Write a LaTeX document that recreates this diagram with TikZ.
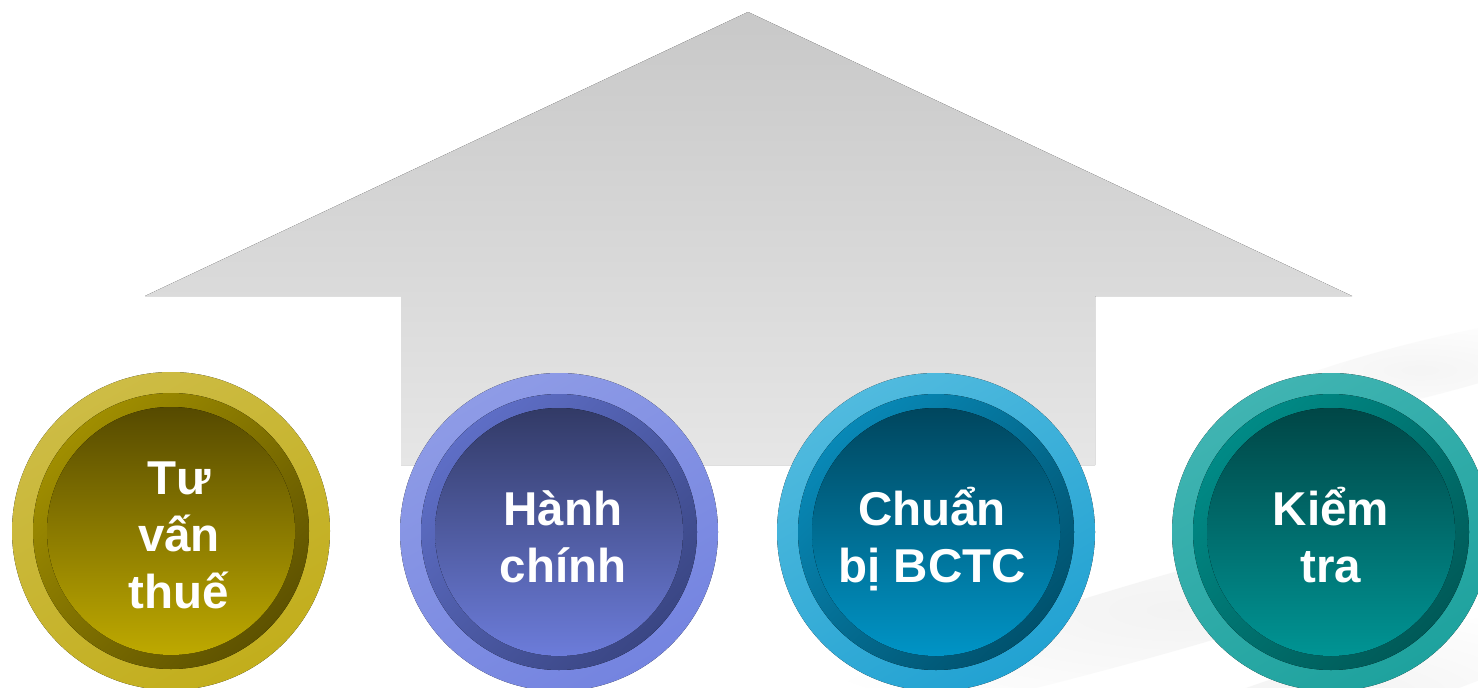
\documentclass[tikz,border=0pt]{standalone}
\usepackage{fontspec}
\setmainfont{Liberation Sans}
\usetikzlibrary{fadings}
\definecolor{arrowtop}{HTML}{C8C8C8}
\definecolor{arrowbot}{HTML}{E6E6E6}
\definecolor{streak}{HTML}{C8C8C8}
% yellow
\definecolor{yOutA}{HTML}{CDBC45}
\definecolor{yOutB}{HTML}{C2AE1C}
\definecolor{yMidA}{HTML}{A08E00}
\definecolor{yMidB}{HTML}{5E5200}
\definecolor{yInA}{HTML}{564A00}
\definecolor{yInB}{HTML}{BEA900}
% blue
\definecolor{bOutA}{HTML}{8E9BE6}
\definecolor{bOutB}{HTML}{7484E0}
\definecolor{bMidA}{HTML}{5E6EC6}
\definecolor{bMidB}{HTML}{3A4684}
\definecolor{bInA}{HTML}{323A66}
\definecolor{bInB}{HTML}{6C7CDA}
% cyan
\definecolor{cOutA}{HTML}{50BADE}
\definecolor{cOutB}{HTML}{22A2D2}
\definecolor{cMidA}{HTML}{0888B6}
\definecolor{cMidB}{HTML}{00526E}
\definecolor{cInA}{HTML}{00465E}
\definecolor{cInB}{HTML}{0094C6}
% teal
\definecolor{tOutA}{HTML}{40B4B2}
\definecolor{tOutB}{HTML}{1EA29E}
\definecolor{tMidA}{HTML}{008A86}
\definecolor{tMidB}{HTML}{005A58}
\definecolor{tInA}{HTML}{004646}
\definecolor{tInB}{HTML}{009494}
\tikzfading[name=softedge, inner color=transparent!0, outer color=transparent!100]
\tikzset{
  badgetext/.style={text=white, font=\bfseries\fontsize{47.5}{57}\selectfont, align=center, anchor=base, inner sep=0pt},
}
\newcommand\mybadge[4]{% center x, y, colour prefix, name
  \coordinate (#4c) at (#1,#2);
  \fill[top color=#3OutA, bottom color=#3OutB, shading angle=30] (#4c) circle[radius=159pt];
  \fill[top color=#3MidA, middle color=#3MidA, bottom color=#3MidB, shading angle=45] (#4c) circle[radius=138pt];
  \fill[top color=#3InA, bottom color=#3InB] (#4c) circle[radius=124pt];
}
\begin{document}
\begin{tikzpicture}[x=1pt,y=-1pt]
\useasboundingbox (0,0) rectangle (1478,688);
\fill[white] (0,0) rectangle (1478,688);
% faint background streaks
\begin{scope}
\clip (0,0) rectangle (1478,688);
\fill[streak, opacity=0.22, path fading=softedge, rotate around={16:(1180,610)}] (1180,610) ellipse[x radius=430pt, y radius=38pt];
\fill[streak, opacity=0.18, path fading=softedge, rotate around={14:(1420,370)}] (1420,370) ellipse[x radius=200pt, y radius=28pt];
\fill[streak, opacity=0.22, path fading=softedge, rotate around={18:(1320,700)}] (1320,700) ellipse[x radius=320pt, y radius=35pt];
\end{scope}
% big arrow
\coordinate (apex) at (748,12);
\fill[top color=arrowtop, bottom color=arrowbot]
  (apex) -- (1352,296) -- (1095,296) -- (1095,465) -- (401,465) -- (401,296) -- (145,296) -- cycle;
% badges
\mybadge{171}{531}{y}{tv}
\mybadge{559}{532}{b}{hc}
\mybadge{936}{532}{c}{cb}
\mybadge{1331}{532}{t}{kt}
\node[badgetext] (tvt) at (179,608) {Tư\\vấn\\thuế};
\node[badgetext] (hct) at (563,582) {Hành\\chính};
\node[badgetext] (cbt) at (932,582) {Chuẩn\\bị BCTC};
\node[badgetext] (ktt) at (1331,582) {Kiểm\\tra};
\end{tikzpicture}
\end{document}
